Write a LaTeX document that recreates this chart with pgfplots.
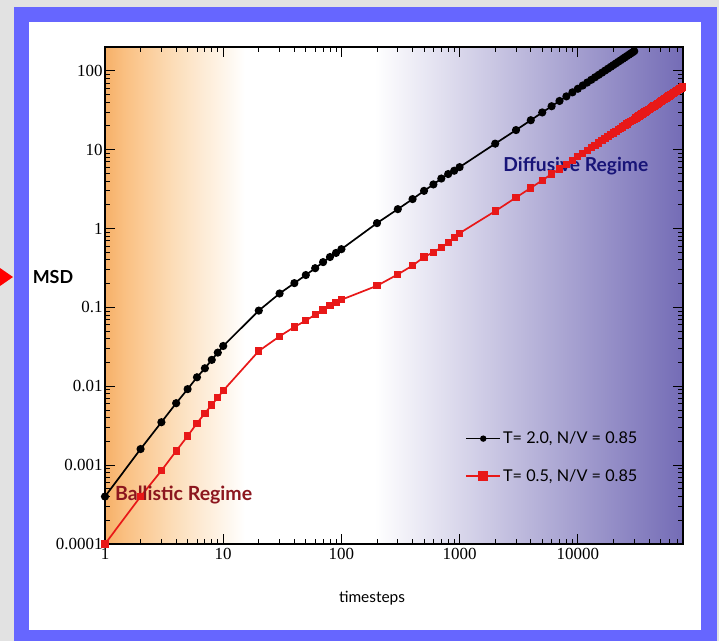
\documentclass[border=0pt]{standalone}
\usepackage{pgfplots}
\pgfplotsset{compat=1.18}
\usepackage{fontspec}
\setmainfont{Liberation Serif}
\newfontfamily\sansf{Lato}
\definecolor{frameblue}{RGB}{102,102,255}
\definecolor{bggray}{RGB}{226,226,226}
\definecolor{orA}{RGB}{246,176,104}
\definecolor{orB}{RGB}{250,192,130}
\definecolor{orC}{RGB}{252,222,186}
\definecolor{purp}{RGB}{116,108,182}
\definecolor{ballred}{RGB}{140,22,30}
\definecolor{diffblue}{RGB}{24,20,120}
\definecolor{linered}{RGB}{232,24,24}
\pgfdeclarehorizontalshading{ballistic}{100bp}{color(0bp)=(orA); color(25bp)=(orA); color(32bp)=(orB); color(50bp)=(orC); color(75bp)=(white); color(100bp)=(white)}
\pgfdeclarehorizontalshading{diffusive}{100bp}{color(0bp)=(white); color(25bp)=(white); color(75bp)=(purp); color(100bp)=(purp)}

\pgfplotstableread{
x y
1 4.0e-4
2 1.6e-3
3 3.5e-3
4 6.1e-3
5 9.2e-3
6 0.013
7 0.0169
8 0.0216
9 0.0267
10 0.0324
20 0.091
30 0.150
40 0.203
50 0.257
60 0.314
70 0.375
80 0.435
90 0.49
100 0.547
200 1.17
300 1.76
400 2.36
500 3.0
600 3.62
700 4.3
800 4.9
900 5.4
1000 6.0
2000 11.9
3000 17.7
4000 23.6
5000 29.6
6000 35.5
7000 41.4
8000 47.3
9000 53.2
10000 59.1
11000 65.0
12000 70.9
13000 76.8
14000 82.7
15000 88.6
16000 94.5
17000 100.4
18000 106.3
19000 112.2
20000 118.1
21000 124.0
22000 129.9
23000 135.8
24000 141.7
25000 147.6
26000 153.5
27000 159.4
28000 165.3
29000 171.2
30000 177.1
}\hot

\pgfplotstableread{
x y
1 1.0e-4
2 4.0e-4
3 8.5e-4
4 1.51e-3
5 2.34e-3
6 3.4e-3
7 4.55e-3
8 5.8e-3
9 7.2e-3
10 8.8e-3
20 0.028
30 0.043
40 0.0565
50 0.068
60 0.081
70 0.093
80 0.106
90 0.116
100 0.125
200 0.188
300 0.262
400 0.339
500 0.435
600 0.50
700 0.574
800 0.664
900 0.767
1000 0.873
2000 1.66
3000 2.47
4000 3.27
5000 4.08
6000 4.9
7000 5.7
8000 6.51
9000 7.32
10000 8.13
11000 8.94
12000 9.75
13000 10.55
14000 11.36
15000 12.17
16000 12.98
17000 13.79
18000 14.59
19000 15.40
20000 16.21
21000 17.02
22000 17.83
23000 18.63
24000 19.44
25000 20.25
26000 21.06
27000 21.87
28000 22.67
29000 23.48
30000 24.29
31000 25.10
32000 25.91
33000 26.71
34000 27.52
35000 28.33
36000 29.14
37000 29.95
38000 30.75
39000 31.56
40000 32.37
41000 33.18
42000 33.99
43000 34.79
44000 35.60
45000 36.41
46000 37.22
47000 38.03
48000 38.83
49000 39.64
50000 40.45
51000 41.26
52000 42.07
53000 42.87
54000 43.68
55000 44.49
56000 45.30
57000 46.11
58000 46.91
59000 47.72
60000 48.53
61000 49.34
62000 50.15
63000 50.95
64000 51.76
65000 52.57
66000 53.38
67000 54.19
68000 54.99
69000 55.80
70000 56.61
71000 57.42
72000 58.23
73000 59.03
74000 59.84
75000 60.65
76000 61.46
77000 62.27
}\cold

\begin{document}
\begin{tikzpicture}
\useasboundingbox (0,0) rectangle (719bp,-641bp);
\fill[bggray] (0,0) rectangle (719bp,-641bp);
\fill[frameblue] (14bp,-7bp) rectangle (717bp,-641bp);
\fill[white] (29bp,-22bp) rectangle (701bp,-630bp);
\fill[red] (0,-268bp) -- (13bp,-277bp) -- (0,-286bp) -- cycle;
\begin{axis}[
  at={(105bp,-47bp)}, anchor=north west,
  scale only axis, width=578bp, height=497bp,
  xmode=log, ymode=log,
  xmin=1, xmax=77600, ymin=1e-4, ymax=200,
  xtick={1,10,100,1000,10000}, xticklabels={1,10,100,1000,10000},
  ytick={1e-4,1e-3,1e-2,1e-1,1,10,100},
  yticklabels={0.0001,0.001,0.01,0.1,1,10,100},
  minor xtick={2,3,4,5,6,7,8,9,20,30,40,50,60,70,80,90,200,300,400,500,600,700,800,900,2000,3000,4000,5000,6000,7000,8000,9000,20000,30000,40000,50000,60000,70000},
  minor ytick={2e-4,3e-4,4e-4,5e-4,6e-4,7e-4,8e-4,9e-4,2e-3,3e-3,4e-3,5e-3,6e-3,7e-3,8e-3,9e-3,0.02,0.03,0.04,0.05,0.06,0.07,0.08,0.09,0.2,0.3,0.4,0.5,0.6,0.7,0.8,0.9,2,3,4,5,6,7,8,9,20,30,40,50,60,70,80,90,200},
  tick pos=both, tick align=inside,
  major tick length=10bp, minor tick length=5bp,
  tick style={black, line width=0.9bp},
  axis line style={line width=1.4bp},
  axis on top,
  /pgf/number format/assume math mode=true,
  tick label style={font=\fontsize{17}{19}\selectfont},
  xticklabel style={yshift=-1bp},
  yticklabel style={xshift=1bp},
  xlabel={timesteps},
  xlabel style={at={(axis description cs:0.462,-0.109)}, anchor=center, font=\sansf\fontsize{15.5}{18}\selectfont},
  ylabel={MSD},
  ylabel style={at={(axis description cs:-0.09,0.537)}, anchor=center, rotate=-90, font=\sansf\bfseries\fontsize{18}{20}\selectfont},
  legend style={at={(axis description cs:0.618,0.234)}, anchor=north west, draw=none, fill=none, font=\sansf\fontsize{16.3}{19}\selectfont, row sep=20bp},
  legend cell align=left,
  legend image code/.code={\draw[mark repeat=2,mark phase=2,#1] plot coordinates {(0bp,0bp) (17bp,0bp) (34bp,0bp)};},
]
\shade[shading=ballistic] (axis cs:1,1e-4) rectangle (axis cs:15.3,200);
\shade[shading=diffusive] (axis cs:192,1e-4) rectangle (axis cs:77600,200);
\addplot[black, line width=1.7bp, mark=*, mark size=3.2bp, legend image post style={mark size=2.3bp}] table[x=x,y=y] {\hot};
\addlegendentry{T= 2.0, N/V = 0.85}
\addplot[linered, line width=1.7bp, mark=square*, mark size=2.8bp, mark options={fill=linered}, legend image post style={mark size=4.3bp}] table[x=x,y=y] {\cold};
\addlegendentry{T= 0.5, N/V = 0.85}
\node[anchor=west, text=ballred, font=\sansf\bfseries\fontsize{19.6}{21}\selectfont, inner sep=0pt] at (axis description cs:0.0173,0.0986) {Ballistic Regime};
\node[anchor=west, text=diffblue, font=\sansf\bfseries\fontsize{19.3}{21}\selectfont, inner sep=0pt] at (axis description cs:0.689,0.7606) {Diffusive Regime};
\end{axis}
\end{tikzpicture}
\end{document}
